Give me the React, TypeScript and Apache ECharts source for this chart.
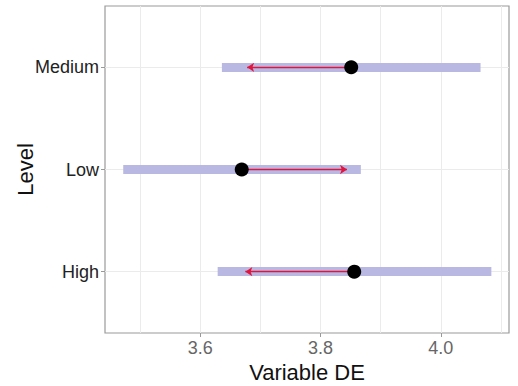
import React, { useEffect, useRef } from "react";
import * as echarts from "echarts";

const levels = ["High", "Low", "Medium"];
const levelPos = [1, 2, 3];
const rangeLow = [3.629, 3.472, 3.636];
const rangeHigh = [4.084, 3.867, 4.066];
const pointValue = [3.856, 3.669, 3.851];
const arrowEnd = [3.675, 3.844, 3.678];
const xTicks = [3.6, 3.8, 4.0];
const xMinorGrid = [3.5, 3.7, 3.9, 4.1];

const X_MIN = 3.4417;
const X_MAX = 4.1133;
const Y_MIN = 0.4;
const Y_MAX = 3.6;

const FONT = "Liberation Sans, Arial, sans-serif";

export default function App() {
  const ref = useRef<HTMLDivElement>(null);
  useEffect(() => {
    if (!ref.current) return;
    const chart = echarts.init(ref.current, undefined, { renderer: "svg" });
    const gridV = [...xTicks, ...xMinorGrid].map((v) => ({
      coords: [
        [v, Y_MIN],
        [v, Y_MAX],
      ],
    }));
    const gridH = levelPos.map((p) => ({
      coords: [
        [X_MIN, p],
        [X_MAX, p],
      ],
    }));
    chart.setOption({
      animation: false,
      grid: {
        left: 105,
        top: 6,
        width: 404,
        height: 327,
        containLabel: false,
        outerBoundsMode: "none",
        show: true,
        borderColor: "#9a9a9a",
        borderWidth: 1.2,
        backgroundColor: "#fff",
      },
      xAxis: {
        type: "value",
        min: X_MIN,
        max: X_MAX,
        name: "Variable DE",
        nameLocation: "middle",
        nameGap: 28,
        nameMoveOverlap: false,
        nameTextStyle: { fontFamily: FONT, fontSize: 22, color: "#111" },
        axisLine: { show: false },
        axisTick: { show: true, length: 4, customValues: xTicks, lineStyle: { color: "#999" } },
        axisLabel: {
          customValues: xTicks,
          formatter: (v: number) => v.toFixed(1),
          fontFamily: FONT,
          fontSize: 18,
          color: "#666",
          margin: 6,
        },
        splitLine: { show: false },
      },
      yAxis: {
        type: "value",
        min: Y_MIN,
        max: Y_MAX,
        name: "Level",
        nameLocation: "middle",
        nameRotate: 90,
        nameGap: 69,
        nameMoveOverlap: false,
        nameTextStyle: { fontFamily: FONT, fontSize: 22, color: "#111" },
        axisLine: { show: false },
        axisTick: { show: true, length: 4, customValues: levelPos, lineStyle: { color: "#999" } },
        axisLabel: {
          customValues: levelPos,
          formatter: (v: number) => levels[levelPos.indexOf(Math.round(v))] ?? "",
          fontFamily: FONT,
          fontSize: 18,
          color: "#222",
          margin: 6,
        },
        splitLine: { show: false },
      },
      series: [
        {
          type: "lines",
          coordinateSystem: "cartesian2d",
          silent: true,
          z: 1,
          lineStyle: { color: "#ebebeb", width: 1, opacity: 1 },
          data: [...gridV, ...gridH],
        },
        {
          type: "lines",
          coordinateSystem: "cartesian2d",
          silent: true,
          z: 2,
          lineStyle: { color: "#b8b8e2", width: 9, opacity: 1, cap: "butt" },
          data: levelPos.map((p, i) => ({
            coords: [
              [rangeLow[i], p],
              [rangeHigh[i], p],
            ],
          })),
        },
        {
          type: "lines",
          coordinateSystem: "cartesian2d",
          silent: true,
          z: 3,
          symbol: ["none", "arrow"],
          symbolSize: 7,
          lineStyle: { color: "#e0163f", width: 1.3, opacity: 1 },
          data: levelPos.map((p, i) => ({
            coords: [
              [pointValue[i], p],
              [arrowEnd[i], p],
            ],
          })),
        },
        {
          type: "scatter",
          z: 4,
          symbolSize: 14,
          itemStyle: { color: "#000", opacity: 1 },
          data: levelPos.map((p, i) => [pointValue[i], p]),
        },
      ],
    });
    return () => chart.dispose();
  }, []);
  return (
    <div
      ref={ref}
      style={{ position: "absolute", left: 0, top: 0, width: 518, height: 386, background: "#fff" }}
    />
  );
}
